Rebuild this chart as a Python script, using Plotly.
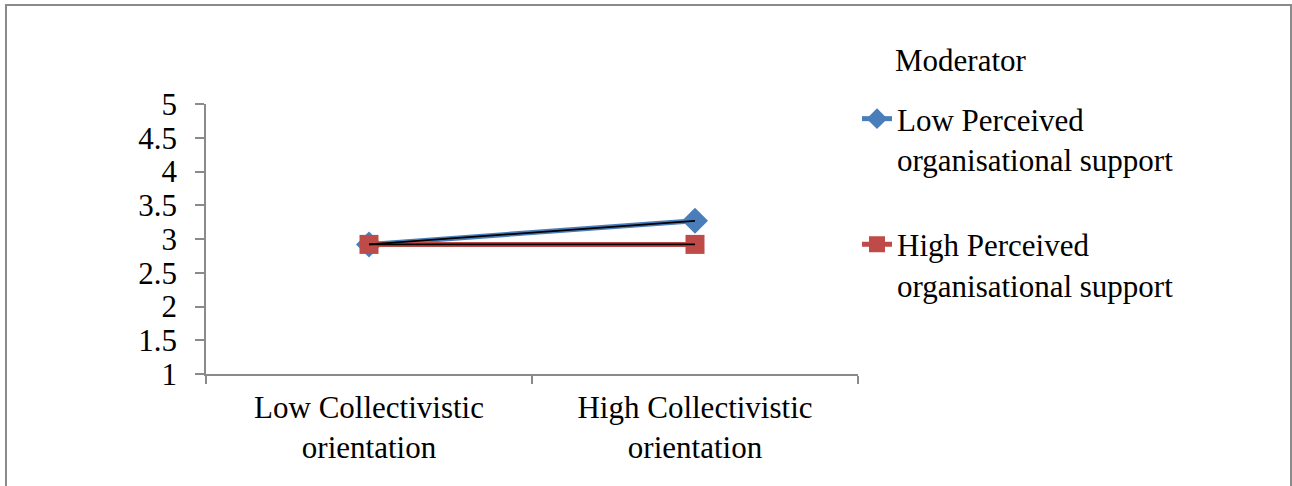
import plotly.graph_objects as go

# Interaction plot: collectivistic orientation x perceived organisational support
categories = ["Low Collectivistic<br>orientation", "High Collectivistic<br>orientation"]
low_pos = [2.92, 3.27]
high_pos = [2.92, 2.92]
series_names = ["Low Perceived<br>organisational support",
                "High Perceived<br>organisational support"]
y_ticks = [1, 1.5, 2, 2.5, 3, 3.5, 4, 4.5, 5]
y_tick_text = ["1", "1.5", "2", "2.5", "3", "3.5", "4", "4.5", "5"]

FONT = "'Times New Roman', 'Liberation Serif', serif"
FS = 31
AXIS_GREY = "#8a8a8a"

W, H = 1292, 486
L, R, T, B = 206, 434, 104, 112
pw, ph = W - L - R, H - T - B

def px_x(x):
    return (x - L) / pw

def px_y(y):
    return (H - B - y) / ph

fig = go.Figure()

fig.add_trace(go.Scatter(
    x=categories, y=low_pos, name=series_names[0], legendgroup="a",
    mode="lines+markers",
    line=dict(color="#4a7ebb", width=5),
    marker=dict(symbol="diamond", size=20, color="#4a7ebb"),
))
fig.add_trace(go.Scatter(
    x=categories, y=high_pos, name=series_names[1], legendgroup="b",
    mode="lines+markers",
    line=dict(color="#be4b48", width=5),
    marker=dict(symbol="square", size=19, color="#be4b48"),
))
# thin black trend lines drawn over each series
for vals in (low_pos, high_pos):
    fig.add_trace(go.Scatter(
        x=categories, y=vals, mode="lines", showlegend=False,
        line=dict(color="black", width=1.8), hoverinfo="skip",
    ))

fig.update_layout(
    width=W, height=H,
    margin=dict(l=L, r=R, t=T, b=B, pad=0),
    paper_bgcolor="white", plot_bgcolor="white",
    font=dict(family=FONT, size=FS, color="black"),
    showlegend=True,
    legend=dict(
        x=px_x(857), y=px_y(92), xanchor="left", yanchor="top",
        font=dict(family=FONT, size=FS, color="black"),
        valign="top", tracegroupgap=42, itemwidth=30,
        bgcolor="rgba(0,0,0,0)", borderwidth=0,
    ),
    xaxis=dict(
        type="category", range=[-0.5, 1.5],
        showline=True, linecolor=AXIS_GREY, linewidth=1.5,
        ticks="outside", ticklen=8, tickcolor=AXIS_GREY, tickwidth=1.5,
        tickson="boundaries", showgrid=False, zeroline=False,
        tickfont=dict(family=FONT, size=FS),
        ticklabelstandoff=5,
    ),
    yaxis=dict(
        range=[1, 5], tickvals=y_ticks, ticktext=y_tick_text,
        showline=True, linecolor=AXIS_GREY, linewidth=1.5,
        ticks="outside", ticklen=9, tickcolor=AXIS_GREY, tickwidth=1.5,
        showgrid=False, zeroline=False,
        tickfont=dict(family=FONT, size=FS),
        ticklabelstandoff=12,
    ),
    annotations=[dict(
        text="Moderator", xref="paper", yref="paper",
        x=px_x(893), y=px_y(60), xanchor="left", yanchor="middle",
        showarrow=False, font=dict(family=FONT, size=FS, color="black"),
    )],
    shapes=[dict(
        type="rect", xref="paper", yref="paper",
        x0=px_x(6), x1=px_x(1291), y0=px_y(495), y1=px_y(5),
        line=dict(color=AXIS_GREY, width=2), fillcolor="rgba(0,0,0,0)",
        layer="below",
    )],
)

fig.write_html("out.html")
